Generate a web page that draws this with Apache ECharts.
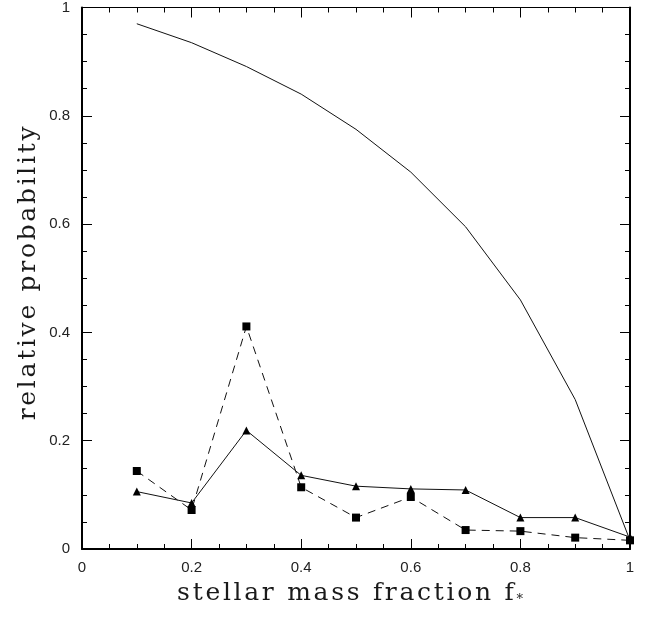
<!DOCTYPE html>
<html>
<head>
<meta charset="utf-8">
<script src="https://cdn.jsdelivr.net/npm/echarts@6/dist/echarts.min.js"></script>
<style>
  html, body { margin: 0; padding: 0; background: #fff; }
  #chart { width: 649px; height: 617px; }
</style>
</head>
<body>
<div id="chart"></div>
<script>
// stellar mass fraction values (x)
var fracs = [0.1, 0.2, 0.3, 0.4, 0.5, 0.6, 0.7, 0.8, 0.9, 1.0];
// upper solid curve, no markers
var upperCurve = [0.970, 0.935, 0.891, 0.840, 0.775, 0.696, 0.595, 0.460, 0.276, 0.016];
// solid line with triangles
var triangleVals = [0.106, 0.085, 0.219, 0.136, 0.116, 0.111, 0.109, 0.058, 0.058, 0.022];
// dashed line with squares
var squareVals = [0.144, 0.072, 0.411, 0.114, 0.058, 0.096, 0.035, 0.033, 0.021, 0.016];

var xTitle = 'stellar mass fraction f';
var yTitle = 'relative probability';

function pairs(ys) {
  var out = [];
  for (var i = 0; i < fracs.length; i++) {
    out.push([fracs[i], ys[i]]);
  }
  return out;
}

// spread letters apart: one rich token per char (no letterSpacing in echarts)
function spaced(str) {
  var s = '';
  for (var i = 0; i < str.length; i++) {
    s += '{c|' + str.charAt(i) + '}';
  }
  return s;
}

var chart = echarts.init(document.getElementById('chart'));

var tickFont = { color: '#222', fontSize: 15, fontFamily: 'Liberation Sans' };
var titleChar = { fontFamily: 'DejaVu Serif', fontSize: 25, fill: '#1a1a1a', padding: [0, 2.7, 0, 0] };

function makeAxis(pos, isX, showLabels) {
  return {
    type: 'value',
    position: pos,
    min: 0,
    max: 1,
    interval: 0.2,
    axisLine: { show: true, onZero: false, lineStyle: { color: '#000', width: (pos === 'top') ? 1 : 2 } },
    axisTick: { show: true, inside: true, length: 10, lineStyle: { color: '#000', width: 1 } },
    minorTick: { show: true, splitNumber: 4, length: 5, lineStyle: { color: '#000', width: 1 } },
    splitLine: { show: false },
    minorSplitLine: { show: false },
    axisLabel: {
      show: showLabels,
      margin: isX ? 11 : 12,
      color: tickFont.color,
      fontSize: tickFont.fontSize,
      fontFamily: tickFont.fontFamily,
      formatter: function (v) { return String(Math.round(v * 10) / 10); }
    }
  };
}

var option = {
  animation: false,
  backgroundColor: '#fff',
  grid: { left: 82, right: 19, top: 2, bottom: 68, containLabel: false },
  xAxis: [makeAxis('bottom', true, true), makeAxis('top', true, false)],
  yAxis: [makeAxis('left', false, true), makeAxis('right', false, false)],
  series: [
    {
      name: 'upper',
      type: 'line',
      data: pairs(upperCurve),
      showSymbol: false,
      symbol: 'none',
      lineStyle: { color: '#111', width: 1 }
    },
    {
      name: 'triangles',
      type: 'line',
      data: pairs(triangleVals),
      symbol: 'triangle',
      symbolSize: 8,
      itemStyle: { color: '#000' },
      lineStyle: { color: '#111', width: 1 }
    },
    {
      name: 'squares',
      type: 'line',
      data: pairs(squareVals),
      symbol: 'rect',
      symbolSize: 8,
      itemStyle: { color: '#000' },
      lineStyle: { color: '#111', width: 1, type: [8, 6] }
    }
  ],
  graphic: [
    {
      type: 'text',
      x: 350,
      y: 593,
      style: {
        text: spaced(xTitle) + '{s|*}',
        align: 'center',
        verticalAlign: 'middle',
        rich: {
          c: titleChar,
          s: { fontFamily: 'DejaVu Serif', fontSize: 13, fill: '#1a1a1a', padding: [14, 0, 0, 0] }
        }
      }
    },
    {
      type: 'text',
      x: 28,
      y: 272,
      rotation: Math.PI / 2,
      style: {
        text: spaced(yTitle),
        align: 'center',
        verticalAlign: 'middle',
        rich: { c: titleChar }
      }
    }
  ]
};

chart.setOption(option);
</script>
</body>
</html>
